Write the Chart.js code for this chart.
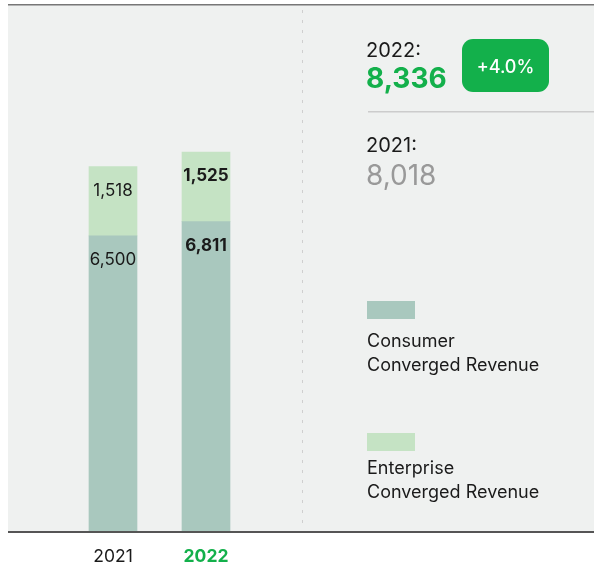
<!DOCTYPE html>
<html>
<head>
<meta charset="utf-8">
<script src="https://cdn.jsdelivr.net/npm/chart.js@4"></script>
<style>
  html, body { margin: 0; padding: 0; background: #ffffff; }
  #wrap { position: relative; width: 594px; height: 564px; }
</style>
</head>
<body>
<div id="wrap"><canvas id="c" width="594" height="564"></canvas></div>
<script>
// ---- data ----
const categories = ['2021', '2022'];
const consumerValues = [6500, 6811];
const enterpriseValues = [1518, 1525];
const seriesNames = [['Consumer', 'Converged Revenue'], ['Enterprise', 'Converged Revenue']];
const totalLabels = ['2021:', '2022:'];
const totalValues = [8018, 8336];
const changeLabel = '+4.0%';

const FONT = 'Inter, "Open Sans", sans-serif';
const GREEN = '#13b04b';
const C_CONS = '#a9c8be';
const C_ENT = '#c5e3c4';

const fmt = v => v.toLocaleString('en-US');

const decorPlugin = {
  id: 'decor',
  beforeDraw(chart) {
    const ctx = chart.ctx;
    const area = chart.chartArea;
    ctx.save();
    ctx.fillStyle = '#eff1f0';
    ctx.fillRect(8, 5, 586, area.bottom - 5);
    ctx.fillStyle = '#777777';
    ctx.fillRect(8, 4, 586, 1.5);
    ctx.strokeStyle = '#cfcfcf';
    ctx.lineWidth = 1;
    ctx.setLineDash([3, 7]);
    ctx.beginPath();
    ctx.moveTo(302.5, 10);
    ctx.lineTo(302.5, area.bottom - 2);
    ctx.stroke();
    ctx.setLineDash([]);
    ctx.restore();
  },
  afterDatasetsDraw(chart) {
    const ctx = chart.ctx;
    const area = chart.chartArea;
    ctx.save();
    ctx.fillStyle = '#555555';
    ctx.fillRect(8, area.bottom - 1, 586, 2);

    // value labels inside segments
    ctx.textAlign = 'center';
    ctx.textBaseline = 'middle';
    ctx.fillStyle = '#1a1a1a';
    chart.data.datasets.forEach((ds, di) => {
      const meta = chart.getDatasetMeta(di);
      meta.data.forEach((bar, i) => {
        ctx.font = (i === 1 ? '700 ' : '400 ') + '17px ' + FONT;
        ctx.fillText(fmt(ds.data[i]), bar.x, bar.y + 24);
      });
    });

    // right panel: totals
    ctx.textAlign = 'left';
    ctx.textBaseline = 'alphabetic';
    ctx.fillStyle = '#1a1a1a';
    ctx.font = '400 20px ' + FONT;
    ctx.fillText(totalLabels[1], 366, 57);
    ctx.fillStyle = GREEN;
    ctx.font = '700 28px ' + FONT;
    ctx.fillText(fmt(totalValues[1]), 366, 88);

    // badge
    ctx.fillStyle = GREEN;
    ctx.beginPath();
    ctx.roundRect(462, 39, 87, 53, 11);
    ctx.fill();
    ctx.fillStyle = '#ffffff';
    ctx.font = '500 18px ' + FONT;
    ctx.textAlign = 'center';
    ctx.textBaseline = 'middle';
    ctx.fillText(changeLabel, 505.5, 68);

    // separator
    ctx.fillStyle = '#cccccc';
    ctx.fillRect(368, 111, 226, 1.5);

    ctx.textAlign = 'left';
    ctx.textBaseline = 'alphabetic';
    ctx.fillStyle = '#1a1a1a';
    ctx.font = '400 20px ' + FONT;
    ctx.fillText(totalLabels[0], 366, 152);
    ctx.fillStyle = '#999999';
    ctx.font = '400 28px ' + FONT;
    ctx.fillText(fmt(totalValues[0]), 366, 185);

    // legend
    const legendTop = [301, 433];
    const legendTextOffset = [41, 36];
    chart.data.datasets.forEach((ds, di) => {
      const y0 = legendTop[di];
      ctx.fillStyle = ds.backgroundColor;
      ctx.fillRect(367, y0, 48, 18);
      ctx.fillStyle = '#1a1a1a';
      ctx.font = '400 18px ' + FONT;
      ctx.textBaseline = 'middle';
      seriesNames[di].forEach((line, li) => {
        ctx.fillText(line, 367, y0 + legendTextOffset[di] + li * 24);
      });
    });
    ctx.restore();
  }
};

new Chart(document.getElementById('c'), {
  type: 'bar',
  data: {
    labels: categories,
    datasets: [
      { label: seriesNames[0].join(' '), data: consumerValues, backgroundColor: C_CONS, barThickness: 48 },
      { label: seriesNames[1].join(' '), data: enterpriseValues, backgroundColor: C_ENT, barThickness: 48 }
    ]
  },
  options: {
    responsive: false,
    animation: false,
    devicePixelRatio: 1,
    layout: { padding: { left: 66.5, right: 341.5, top: 8, bottom: -17 } },
    plugins: { legend: { display: false }, tooltip: { enabled: false } },
    scales: {
      x: {
        stacked: true,
        grid: { display: false, drawTicks: false },
        border: { display: false },
        ticks: {
          padding: 14,
          font: ctx => ({ family: FONT, size: 17.5, weight: ctx.index === 1 ? '700' : '400' }),
          color: ctx => ctx.index === 1 ? GREEN : '#1a1a1a'
        }
      },
      y: {
        stacked: true,
        display: false,
        min: 0,
        max: 11500
      }
    }
  },
  plugins: [decorPlugin]
});
</script>
</body>
</html>
